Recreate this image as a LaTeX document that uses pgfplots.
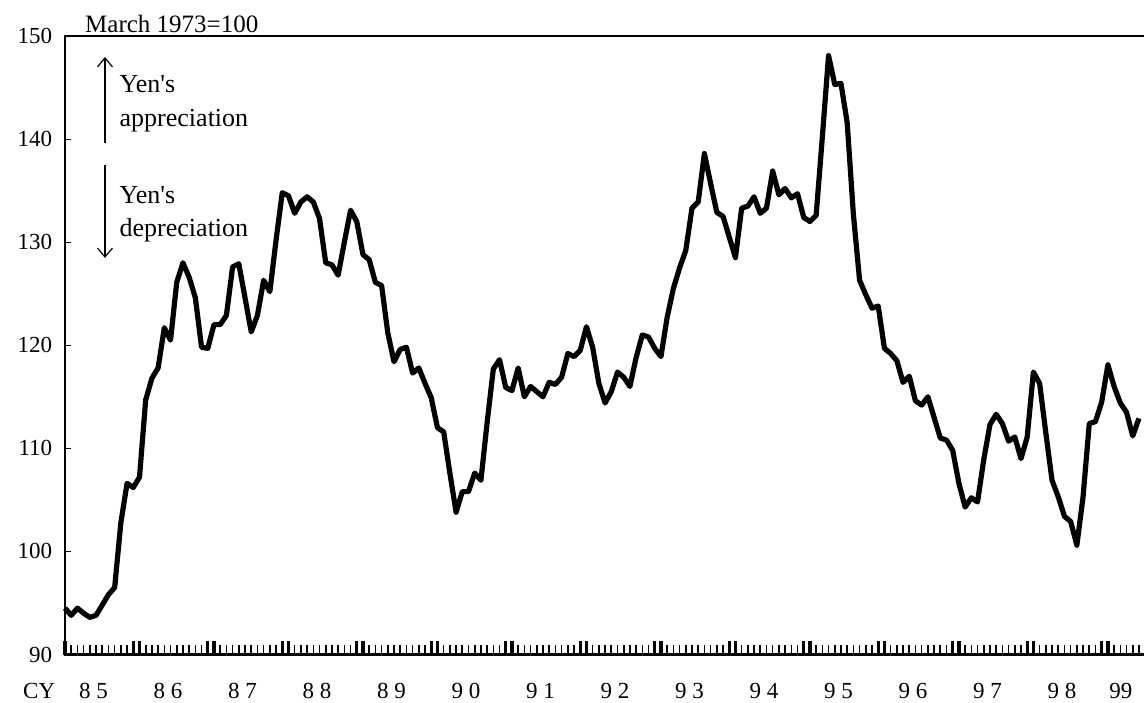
\documentclass[border=0pt]{standalone}
\usepackage{fontspec}
\setmainfont{Liberation Serif}
\usepackage{pgfplots}
\pgfplotsset{compat=1.18}
\usepackage{pgfplotstable}
\usetikzlibrary{arrows.meta}
\pgfplotstableread{
m v
0 94.5
1 93.8
2 94.5
3 94.0
4 93.6
5 93.8
6 94.8
7 95.8
8 96.5
9 102.8
10 106.6
11 106.2
12 107.2
13 114.7
14 116.8
15 117.8
16 121.7
17 120.5
18 126.1
19 128.0
20 126.6
21 124.6
22 119.8
23 119.7
24 122.0
25 122.0
26 122.9
27 127.6
28 127.9
29 124.6
30 121.3
31 122.9
32 126.3
33 125.2
34 130.2
35 134.8
36 134.5
37 132.8
38 133.9
39 134.4
40 133.9
41 132.3
42 128.0
43 127.8
44 126.8
45 130.0
46 133.1
47 132.0
48 128.8
49 128.3
50 126.1
51 125.8
52 121.2
53 118.4
54 119.6
55 119.8
56 117.3
57 117.8
58 116.3
59 114.9
60 112.0
61 111.6
62 107.6
63 103.8
64 105.8
65 105.8
66 107.6
67 106.9
68 112.5
69 117.7
70 118.6
71 115.9
72 115.6
73 117.8
74 115.0
75 116.0
76 115.5
77 115.0
78 116.4
79 116.2
80 116.9
81 119.2
82 118.9
83 119.5
84 121.8
85 119.8
86 116.3
87 114.4
88 115.5
89 117.4
90 116.9
91 116.0
92 118.8
93 121.0
94 120.8
95 119.7
96 118.9
97 122.7
98 125.5
99 127.5
100 129.2
101 133.3
102 133.9
103 138.6
104 135.7
105 132.9
106 132.5
107 130.5
108 128.5
109 133.3
110 133.5
111 134.4
112 132.8
113 133.3
114 136.9
115 134.6
116 135.2
117 134.3
118 134.7
119 132.4
120 132.0
121 132.6
122 140.2
123 148.1
124 145.3
125 145.4
126 141.6
127 132.7
128 126.3
129 124.9
130 123.6
131 123.8
132 119.7
133 119.2
134 118.5
135 116.4
136 117.0
137 114.6
138 114.2
139 115.0
140 113.0
141 111.0
142 110.8
143 109.8
144 106.6
145 104.3
146 105.2
147 104.8
148 108.9
149 112.3
150 113.3
151 112.4
152 110.7
153 111.1
154 109.0
155 111.1
156 117.4
157 116.3
158 111.5
159 106.9
160 105.3
161 103.4
162 102.9
163 100.6
164 105.3
165 112.4
166 112.6
167 114.5
168 118.1
169 116.0
170 114.4
171 113.5
172 111.2
173 112.9
}\yentable
\begin{document}
\begin{tikzpicture}
\path[use as bounding box] (-65pt,-47.5pt) rectangle (1079pt,654.5pt);
\begin{axis}[
  scale only axis, width=1082pt, height=618.5pt,
  xmin=0, xmax=174.3, ymin=90, ymax=150,
  clip=false,
  tick pos=left,
  tick align=inside,
  axis line style={line width=2.6pt, black},
  xtick={0,11,12,23,24,35,36,47,48,59,60,71,72,83,84,95,96,107,108,119,120,131,132,143,144,155,156,167,168},
  xticklabels={},
  minor xtick={0,...,174},
  major tick length=13pt, minor tick length=9pt,
  major tick style={line width=3.4pt, black},
  minor tick style={line width=1.6pt, black},
  ytick=\empty,
  extra y ticks={90,100,110,120,130,140,150},
  extra y tick labels={90,100,110,120,130,140,150},
  extra y tick style={major tick length=6pt, major tick style={line width=1pt, black}},
  extra x ticks={4.6,16.6,28.6,40.6,52.6,64.6,76.6,88.6,100.6,112.6,124.6,136.6,148.6,160.6,170.1},
  extra x tick labels={{8 5},{8 6},{8 7},{8 8},{8 9},{9 0},{9 1},{9 2},{9 3},{9 4},{9 5},{9 6},{9 7},{9 8},{99}},
  extra x tick style={major tick length=0pt},
  /pgf/number format/assume math mode=true,
  tick label style={font=\fontsize{23}{27}\selectfont},
  xticklabel style={anchor=base, yshift=-44pt},
  yticklabel style={anchor=east, xshift=-9.3pt},
]
\addplot[black, line width=5.2pt, line join=round] table[x=m,y=v] {\yentable};
\end{axis}
\node[anchor=base west, inner sep=0pt, font=\fontsize{25}{30}\selectfont] at (20pt,621.5pt) {March 1973=100};
\node[anchor=base west, inner sep=0pt, font=\fontsize{26}{30}\selectfont] at (54.5pt,561.5pt) {Yen\textquotesingle s};
\node[anchor=base west, inner sep=0pt, font=\fontsize{26}{30}\selectfont] at (54.5pt,527.8pt) {appreciation};
\node[anchor=base west, inner sep=0pt, font=\fontsize{26}{30}\selectfont] at (54.5pt,450.5pt) {Yen\textquotesingle s};
\node[anchor=base west, inner sep=0pt, font=\fontsize{26}{30}\selectfont] at (54.5pt,417.5pt) {depreciation};
\draw[line width=1.2pt, -{Straight Barb[length=9pt,width=15pt,line width=1.2pt]}] (40pt,511.5pt) -- (40pt,597.5pt);
\draw[line width=1.2pt, -{Straight Barb[length=9pt,width=15pt,line width=1.2pt]}] (40pt,489.5pt) -- (40pt,396.5pt);
\node[anchor=base west, inner sep=0pt, font=\fontsize{23}{27}\selectfont] at (-42pt,-44pt) {CY};
\end{tikzpicture}
\end{document}
